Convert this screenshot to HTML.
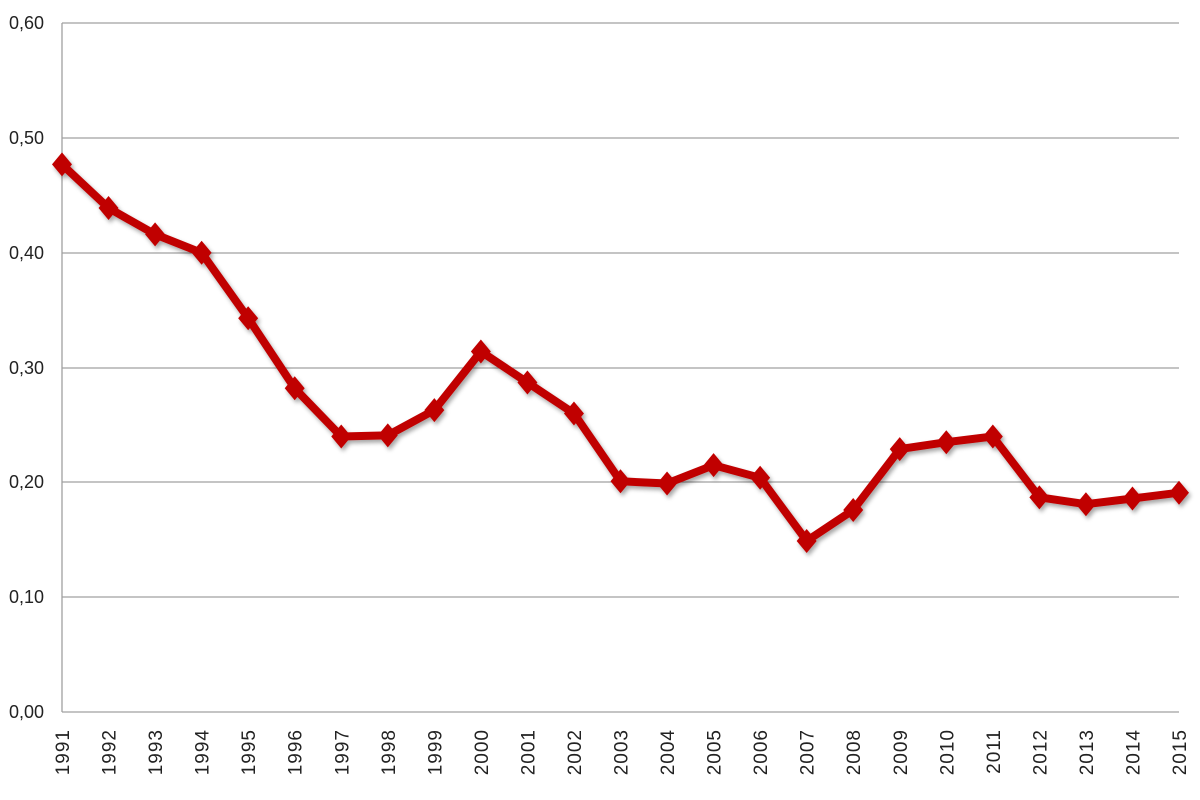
<!DOCTYPE html>
<html><head><meta charset="utf-8"><style>body{margin:0;background:#fff}svg{display:block}</style></head><body>
<svg width="1200" height="800" xmlns="http://www.w3.org/2000/svg" font-family="Liberation Sans, sans-serif">
<defs><filter id="s" x="-20%" y="-20%" width="140%" height="140%"><feDropShadow dx="2" dy="3" stdDeviation="2" flood-color="#000" flood-opacity="0.35"/></filter></defs>
<g stroke="#a0a0a0" stroke-width="1.3">
<line x1="62" y1="23" x2="1179" y2="23"/><line x1="62" y1="138" x2="1179" y2="138"/><line x1="62" y1="253" x2="1179" y2="253"/><line x1="62" y1="368" x2="1179" y2="368"/><line x1="62" y1="482" x2="1179" y2="482"/><line x1="62" y1="597" x2="1179" y2="597"/><line x1="62" y1="712" x2="1179" y2="712"/><line x1="62" y1="23" x2="62" y2="712"/>
</g>
<g font-size="18" fill="#222" text-anchor="end">
<text x="44" y="29">0,60</text><text x="44" y="144">0,50</text><text x="44" y="259">0,40</text><text x="44" y="374">0,30</text><text x="44" y="488">0,20</text><text x="44" y="603">0,10</text><text x="44" y="718">0,00</text>
</g>
<g id="xl" font-size="19" fill="#222" text-anchor="end" letter-spacing="1"></g>
<g id="ser" filter="url(#s)"></g>
<script>
var v=[0.477,0.439,0.416,0.400,0.343,0.282,0.240,0.241,0.263,0.314,0.287,0.260,0.201,0.199,0.215,0.204,0.149,0.176,0.229,0.235,0.240,0.187,0.181,0.186,0.191];
var ns="http://www.w3.org/2000/svg",xl=document.getElementById('xl'),g=document.getElementById('ser');
var pts=[];
for(var i=0;i<25;i++){var x=62+i*(1117/24),y=712-v[i]*1148;pts.push(x.toFixed(1)+','+y.toFixed(1));
var t=document.createElementNS(ns,'text');t.setAttribute('transform','translate('+(x+7)+',729) rotate(-90)');t.textContent=1991+i;xl.appendChild(t);}
var p=document.createElementNS(ns,'polyline');p.setAttribute('points',pts.join(' '));p.setAttribute('fill','none');p.setAttribute('stroke','#c00000');p.setAttribute('stroke-width','8');p.setAttribute('stroke-linejoin','round');g.appendChild(p);
for(var i=0;i<25;i++){var x=62+i*(1117/24),y=712-v[i]*1148;var d=document.createElementNS(ns,'polygon');d.setAttribute('points',x+','+(y-12)+' '+(x+10)+','+y+' '+x+','+(y+12)+' '+(x-10)+','+y);d.setAttribute('fill','#c00000');g.appendChild(d);}
</script>
</svg>
</body></html>
